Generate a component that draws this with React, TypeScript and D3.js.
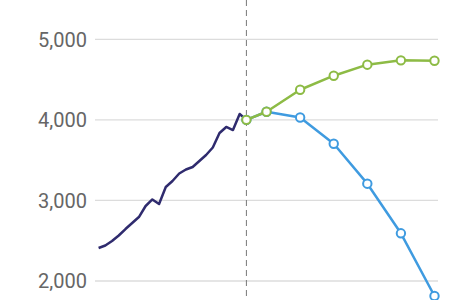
import React from "react";
import * as d3 from "d3";

const histYears = d3.range(2000, 2023);
const histValues = [2410, 2441, 2496, 2565, 2645, 2720, 2794, 2931, 3012, 2956, 3167, 3241, 3334, 3384, 3415, 3489, 3564, 3657, 3837, 3912, 3874, 4073, 4000];
const forecastYears = [2022, 2025, 2030, 2035, 2040, 2045, 2050];
const highValues = [4000, 4101, 4374, 4548, 4685, 4739, 4734];
const lowValues = [4000, 4101, 4029, 3704, 3208, 2592, 1814];
const yTicks = [2000, 3000, 4000, 5000];
const splitYear = 2022;

const W = 470;
const H = 300;

export default function App() {
  const x = d3.scaleLinear().domain([2000, 2050]).range([98.6, 434.5]);
  const y = d3.scaleLinear().domain([2000, 5000]).range([281, 39.3]);

  const line = d3
    .line<[number, number]>()
    .x((d) => x(d[0]))
    .y((d) => y(d[1]));

  const hist = histYears.map((yr, i) => [yr, histValues[i]] as [number, number]);
  const high = forecastYears.map((yr, i) => [yr, highValues[i]] as [number, number]);
  const low = forecastYears.map((yr, i) => [yr, lowValues[i]] as [number, number]);

  const green = "#8dbb45";
  const blue = "#3f9be0";
  const navy = "#2f2b6e";

  return (
    <svg
      width={W}
      height={H}
      style={{ position: "absolute", left: 0, top: 0, background: "#fff" }}
      fontFamily="Roboto, sans-serif"
    >
      {yTicks.map((t) => (
        <g key={t}>
          <line x1={95} x2={438} y1={y(t)} y2={y(t)} stroke="#dcdcdc" strokeWidth={1.3} />
          <text
            x={87}
            y={y(t)}
            dy="0.36em"
            textAnchor="end"
            fontSize={20}
            fill="#666"
          >
            {d3.format(",")(t)}
          </text>
        </g>
      ))}
      <line
        x1={x(splitYear)}
        x2={x(splitYear)}
        y1={0}
        y2={H}
        stroke="#777"
        strokeWidth={1}
        strokeDasharray="6,4"
      />
      <path d={line(hist) || ""} fill="none" stroke={navy} strokeWidth={2.5} strokeLinejoin="round" />
      <path d={line(low) || ""} fill="none" stroke={blue} strokeWidth={2.5} strokeLinejoin="round" />
      {low.map((d, i) => (
        <circle key={"l" + i} cx={x(d[0])} cy={y(d[1])} r={4.2} fill="#fff" stroke={blue} strokeWidth={2} />
      ))}
      <path d={line(high) || ""} fill="none" stroke={green} strokeWidth={2.5} strokeLinejoin="round" />
      {high.map((d, i) => (
        <circle key={"h" + i} cx={x(d[0])} cy={y(d[1])} r={4.2} fill="#fff" stroke={green} strokeWidth={2} />
      ))}
    </svg>
  );
}
